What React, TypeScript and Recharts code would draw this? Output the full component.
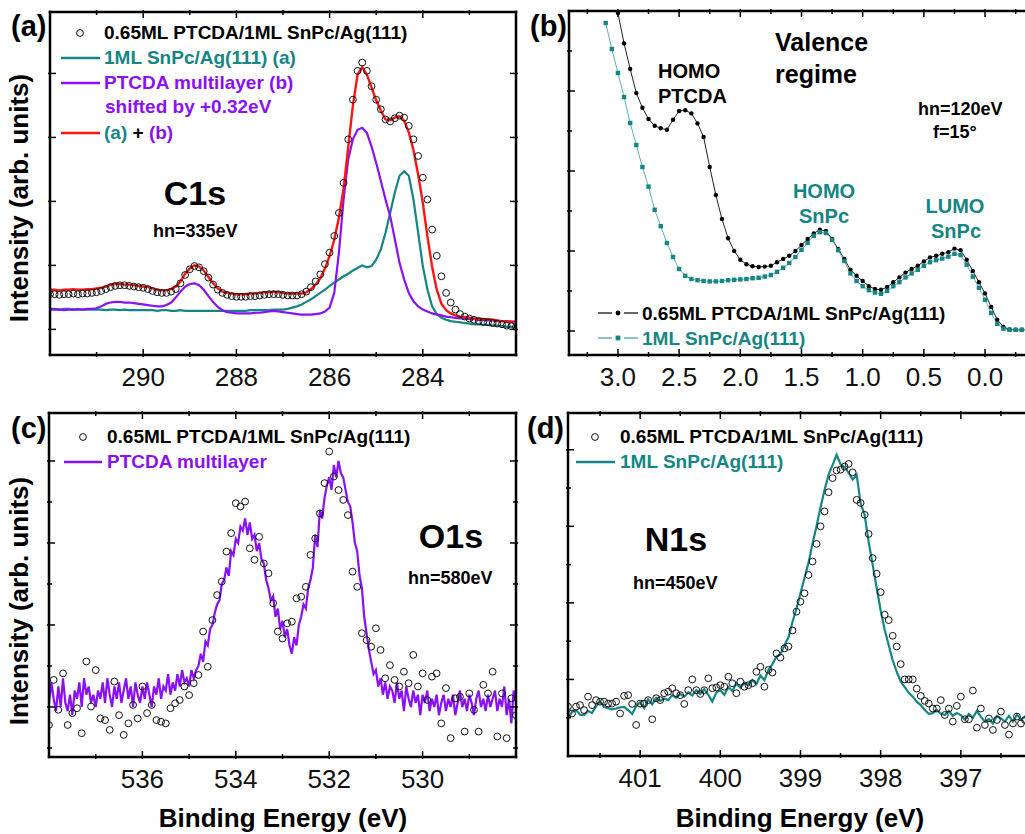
import React from "react";
import { ComposedChart, Line, Scatter, XAxis, YAxis } from "recharts";

const FONT = "'Liberation Sans', Arial, Helvetica, sans-serif";
const TEAL = "#158585";
const TEAL_LIGHT = "#5fb0b0";
const PURPLE = "#8a10f5";
const RED = "#ff1414";
const AXIS = "#000000";

// ---------- (a) C1s, hv = 335 eV : 292.0 -> 282.0 eV, step 0.1 ----------
const c1sStart = 292.0;
const c1sStep = 0.1;
const c1sMeasured = [
  1.55, 1.55, 1.54, 1.55, 1.55, 1.56, 1.55, 1.56, 1.56, 1.57, 1.58,
  1.6, 1.63, 1.66, 1.68, 1.69, 1.69, 1.68, 1.67, 1.66, 1.65,
  1.63, 1.6, 1.58, 1.57, 1.57, 1.59, 1.63, 1.72, 1.85, 1.94,
  1.99, 1.97, 1.91, 1.81, 1.7, 1.62, 1.57, 1.54, 1.52, 1.51,
  1.51, 1.51, 1.52, 1.52, 1.53, 1.54, 1.55, 1.55, 1.55, 1.54,
  1.53, 1.53, 1.53, 1.55, 1.59, 1.66, 1.75, 1.86, 2.02, 2.2,
  2.46, 2.82, 3.29, 3.97, 4.59, 5.04, 5.17, 5.04, 4.8, 4.59,
  4.44, 4.28, 4.25, 4.3, 4.34, 4.31, 4.18, 3.97, 3.71, 3.37,
  3.03, 2.56, 2.15, 1.83, 1.57, 1.42, 1.31, 1.24, 1.2, 1.17,
  1.15, 1.13, 1.12, 1.11, 1.1, 1.09, 1.08, 1.06, 1.05, 1.04,
];
const c1sSum = [
  1.62, 1.62, 1.61, 1.62, 1.62, 1.63, 1.62, 1.62, 1.63, 1.63, 1.64,
  1.65, 1.67, 1.7, 1.71, 1.71, 1.7, 1.7, 1.69, 1.68, 1.67,
  1.66, 1.64, 1.62, 1.61, 1.61, 1.63, 1.67, 1.75, 1.87, 1.95,
  2.0, 1.98, 1.92, 1.82, 1.72, 1.64, 1.59, 1.57, 1.56, 1.55,
  1.55, 1.55, 1.56, 1.56, 1.57, 1.58, 1.58, 1.59, 1.58, 1.57,
  1.56, 1.56, 1.56, 1.56, 1.58, 1.63, 1.7, 1.8, 1.95, 2.15,
  2.4, 2.75, 3.2, 3.85, 4.5, 4.98, 5.1, 4.98, 4.78, 4.58,
  4.42, 4.28, 4.27, 4.31, 4.33, 4.26, 4.08, 3.8, 3.42, 2.98,
  2.45, 1.98, 1.62, 1.4, 1.3, 1.25, 1.22, 1.2, 1.19, 1.18,
  1.17, 1.17, 1.16, 1.16, 1.15, 1.14, 1.13, 1.13, 1.12, 1.11,
];
const c1sPtcda = [
  1.31, 1.31, 1.31, 1.3, 1.31, 1.31, 1.31, 1.31, 1.32, 1.32, 1.33,
  1.36, 1.4, 1.42, 1.43, 1.43, 1.42, 1.42, 1.41, 1.4, 1.39,
  1.38, 1.37, 1.36, 1.36, 1.38, 1.42, 1.5, 1.59, 1.67, 1.71,
  1.72, 1.69, 1.62, 1.52, 1.43, 1.35, 1.3, 1.27, 1.26, 1.25,
  1.25, 1.25, 1.25, 1.26, 1.26, 1.27, 1.28, 1.29, 1.28, 1.27,
  1.26, 1.25, 1.24, 1.23, 1.23, 1.23, 1.24, 1.25, 1.28, 1.34,
  1.57, 2.2, 3.03, 3.66, 3.97, 4.12, 4.15, 4.07, 3.86, 3.6,
  3.32, 3.03, 2.77, 2.41, 2.04, 1.78, 1.57, 1.44, 1.36, 1.31,
  1.28, 1.25, 1.23, 1.22, 1.2, 1.19, 1.18, 1.17, 1.17, 1.16,
  1.16, 1.15, 1.15, 1.14, 1.14, 1.13, 1.13, 1.12, 1.12, 1.12,
];
const c1sSnpc = [
  1.32, 1.32, 1.31, 1.32, 1.32, 1.31, 1.32, 1.31, 1.31, 1.31, 1.31,
  1.31, 1.3, 1.31, 1.31, 1.3, 1.31, 1.3, 1.3, 1.3, 1.3,
  1.3, 1.3, 1.29, 1.3, 1.3, 1.29, 1.29, 1.3, 1.29, 1.29,
  1.29, 1.29, 1.29, 1.29, 1.29, 1.29, 1.29, 1.29, 1.29, 1.29,
  1.29, 1.29, 1.3, 1.3, 1.3, 1.3, 1.3, 1.31, 1.31, 1.31,
  1.32, 1.34, 1.36, 1.39, 1.43, 1.47, 1.52, 1.57, 1.62, 1.68,
  1.73, 1.78, 1.83, 1.87, 1.92, 1.96, 2.0, 1.97, 1.99, 2.09,
  2.25, 2.51, 2.82, 3.14, 3.4, 3.47, 3.4, 3.03, 2.51, 1.99,
  1.62, 1.36, 1.24, 1.18, 1.15, 1.13, 1.12, 1.11, 1.1, 1.09,
  1.08, 1.08, 1.07, 1.07, 1.06, 1.06, 1.05, 1.04, 1.04, 1.03,
];

// ---------- (b) valence, hv = 120 eV, step 0.05 ----------
const vbStep = 0.05;
const vbPtcdaStart = 3.0;
const vbPtcda = [
  8.95, 8.19, 7.55, 6.95, 6.58, 6.3, 6.13, 6.07, 6.03, 6.28,
  6.5, 6.52, 6.44, 6.19, 5.85, 5.1, 4.4, 3.8, 3.32, 3.0,
  2.78, 2.67, 2.62, 2.6, 2.61, 2.63, 2.72, 2.8, 2.88, 3.0,
  3.15, 3.3, 3.44, 3.53, 3.5, 3.3, 3.05, 2.8, 2.53, 2.38,
  2.25, 2.12, 2.05, 2.03, 2.1, 2.22, 2.34, 2.46, 2.55, 2.63,
  2.74, 2.84, 2.88, 2.93, 2.97, 3.06, 3.02, 2.78, 2.5, 2.22,
  1.94, 1.6, 1.28, 1.1, 1.04, 1.03, 1.03, 1.03, 1.03,
];
const vbSnpcStart = 3.1;
const vbSnpc = [
  8.7, 8.05, 7.45, 6.85, 6.2, 5.65, 5.1, 4.61, 4.03, 3.62,
  3.2, 2.85, 2.55, 2.38, 2.3, 2.27, 2.25, 2.24, 2.24, 2.25,
  2.27, 2.28, 2.29, 2.3, 2.32, 2.33, 2.36, 2.4, 2.48, 2.58,
  2.7, 2.85, 3.03, 3.2, 3.38, 3.47, 3.45, 3.28, 3.02, 2.75,
  2.44, 2.25, 2.12, 2.02, 1.96, 1.93, 2.0, 2.12, 2.22, 2.34,
  2.44, 2.53, 2.63, 2.72, 2.77, 2.81, 2.86, 2.93, 2.9, 2.66,
  2.36, 2.08, 1.78, 1.45, 1.18, 1.06, 1.03, 1.03, 1.03, 1.03, 1.03,
];

// ---------- (c) O1s, hv = 580 eV ----------
const o1sStart = 538.0;
const o1sMeasuredStep = 0.1;
const o1sMeasured = [
  1.56, 2.66, 1.93, 2.82, 1.56, 1.85, 1.97, 1.36, 3.11, 2.01,
  2.9, 1.72, 1.68, 1.44, 2.62, 1.8, 1.32, 1.6, 2.05, 1.72,
  2.5, 1.85, 2.05, 1.68, 1.64, 1.6, 1.97, 2.09, 2.17, 2.5,
  2.29, 2.58, 2.78, 3.84, 2.98, 4.12, 4.73, 5.06, 5.79, 6.24,
  6.97, 6.89, 7.01, 5.87, 5.59, 6.15, 5.5, 5.26, 4.53, 3.84,
  3.67, 4.04, 4.08, 4.65, 4.69, 4.93, 5.71, 6.11, 6.72, 7.46,
  8.23, 7.62, 7.29, 7.05, 6.68, 5.3, 4.93, 3.8, 3.63, 3.47,
  3.92, 3.39, 2.7, 3.02, 2.66, 2.5, 2.86, 2.58, 3.27, 2.5,
  2.82, 2.17, 2.74, 2.82, 1.6, 2.46, 1.24, 2.21, 2.25, 1.4,
  2.33, 1.93, 1.4, 2.54, 2.33, 2.86, 1.28, 2.33, 1.24, 2.21,
  1.8,
];
const o1sRefStep = 0.05;
const o1sPtcda = [
  2.1, 2.6, 2.2, 1.9, 2.5, 2.0, 2.7, 2.1, 1.9, 2.3,
  1.8, 2.4, 2.2, 2.6, 2.0, 2.7, 2.3, 2.5, 2.1, 2.3,
  2.0, 2.4, 2.2, 2.6, 2.1, 2.7, 2.3, 2.0, 2.5, 2.2,
  2.6, 2.1, 2.4, 2.7, 2.2, 2.5, 2.0, 2.6, 2.3, 2.1,
  2.5, 2.2, 2.6, 2.3, 2.0, 2.5, 2.3, 2.7, 2.2, 2.5,
  2.4, 2.8, 2.3, 2.6, 2.4, 2.8, 2.5, 2.9, 2.6, 2.7,
  2.5, 2.9, 2.7, 2.9, 3.0, 3.3, 3.1, 3.6, 3.5, 3.9,
  4.0, 4.3, 4.5, 4.6, 5.0, 5.1, 5.4, 5.2, 5.8, 5.7,
  6.1, 6.0, 6.4, 6.3, 6.6, 6.2, 6.5, 6.1, 6.2, 5.8,
  6.0, 5.6, 5.5, 5.1, 4.9, 4.6, 4.7, 4.2, 4.4, 3.9,
  4.1, 3.7, 3.9, 3.5, 3.3, 3.7, 3.5, 4.0, 4.2, 4.5,
  4.4, 4.9, 5.1, 5.4, 6.2, 5.9, 6.8, 6.6, 7.1, 7.4,
  7.6, 7.3, 7.9, 7.6, 8.0, 7.7, 7.6, 7.3, 7.0, 6.9,
  6.5, 6.0, 5.8, 5.2, 4.9, 4.2, 3.8, 3.4, 3.1, 2.8,
  2.9, 2.5, 2.7, 2.3, 2.6, 2.2, 2.5, 2.4, 2.1, 2.6,
  2.2, 2.4, 1.9, 2.5, 2.2, 2.0, 2.4, 2.1, 2.3, 1.8,
  2.3, 2.1, 2.4, 1.9, 2.2, 2.0, 2.3, 1.8, 2.1, 2.3,
  1.9, 2.2, 2.0, 2.3, 1.8, 2.1, 2.4, 2.0, 2.2, 1.9,
  2.3, 2.1, 1.8, 2.2, 2.4, 2.0, 2.2, 1.9, 2.3, 2.0,
  2.2, 2.4, 1.9, 2.2, 2.0, 2.5, 1.8, 2.2, 1.6, 2.4,
  2.1,
];

// ---------- (d) N1s, hv = 450 eV : 401.9 -> 396.1 eV, step 0.05 ----------
const n1sStart = 401.9;
const n1sStep = 0.05;
const n1sMeasured = [
  1.29, 1.11, 1.29, 1.33, 1.2, 1.55, 1.33, 1.46, 1.42, 1.42,
  1.37, 1.37, 1.42, 1.11, 1.57, 1.59, 1.36, 0.81, 1.37, 1.37,
  1.46, 0.96, 1.51, 1.46, 1.64, 1.68, 1.77, 1.64, 1.59, 1.36,
  1.72, 2.0, 1.72, 1.62, 1.72, 2.03, 1.77, 1.79, 1.85, 1.81,
  2.07, 1.9, 1.64, 1.94, 1.81, 1.85, 1.9, 2.2, 2.33, 1.81,
  2.25, 2.18, 2.68, 2.57, 2.81, 2.86, 3.28, 3.77, 4.03, 4.25,
  4.73, 5.08, 5.54, 6.0, 6.39, 6.89, 7.26, 7.46, 7.48, 7.56,
  7.63, 7.41, 6.69, 6.61, 6.3, 5.8, 5.17, 4.76, 4.28, 3.69,
  3.55, 3.14, 2.86, 2.4, 2.0, 2.0, 2.0, 1.76, 1.57, 1.44,
  1.37, 1.24, 1.24, 1.46, 1.07, 1.24, 0.9, 1.31, 1.55, 0.96,
  0.96, 1.71, 0.74, 1.24, 0.81, 0.98, 0.68, 0.94, 1.16, 0.81,
  0.56, 0.85, 1.03, 0.85, 0.94, 0.81, 0.94,
];
const n1sSnpc = [
  0.98, 1.15, 1.2, 1.08, 1.07, 1.18, 1.12, 1.3, 1.42, 1.28,
  1.25, 1.22, 1.24, 1.27, 1.28, 1.2, 1.1, 1.3, 1.4, 1.25,
  1.48, 1.35, 1.52, 1.44, 1.5, 1.46, 1.59, 1.52, 1.62, 1.55,
  1.66, 1.58, 1.72, 1.62, 1.75, 1.6, 1.42, 1.66, 1.72, 1.6,
  1.8, 1.7, 1.9, 1.78, 1.92, 1.85, 1.98, 1.88, 2.1, 1.98,
  2.25, 2.4, 2.6, 2.65, 2.9, 3.1, 3.5, 3.85, 4.25, 4.65,
  5.05, 5.55, 6.0, 6.5, 6.95, 7.35, 7.6, 7.87, 7.62, 7.55,
  7.4, 7.22, 7.35, 6.6, 6.3, 5.6, 5.0, 4.4, 3.8, 3.3,
  2.9, 2.5, 2.2, 1.95, 1.8, 1.65, 1.55, 1.42, 1.33, 1.2,
  1.1, 1.12, 1.2, 1.1, 1.07, 1.18, 1.05, 1.12, 1.07, 0.95,
  1.1, 1.0, 1.18, 1.02, 0.9, 0.97, 0.85, 1.05, 0.98, 0.9,
  1.05, 0.9, 1.08, 0.95, 1.02, 1.2, 0.98,
];

// axis ticks
const c1sTicks = [291, 290, 289, 288, 287, 286, 285, 284, 283];
const c1sMajor = [290, 288, 286, 284];
const vbTicks = [3.25, 3.0, 2.75, 2.5, 2.25, 2.0, 1.75, 1.5, 1.25, 1.0, 0.75, 0.5, 0.25, 0.0, -0.25];
const vbMajor = [3.0, 2.5, 2.0, 1.5, 1.0, 0.5, 0.0];
const o1sTicks = [537, 536, 535, 534, 533, 532, 531, 530, 529];
const o1sMajor = [536, 534, 532, 530];
const n1sTicks = [401.5, 401, 400.5, 400, 399.5, 399, 398.5, 398, 397.5, 397, 396.5];
const n1sMajor = [401, 400, 399, 398, 397];
const yTicksA = [1, 2, 3, 4, 5];
const yTicks8 = [1, 2, 3, 4, 5, 6, 7, 8];
const yMajorOdd = [1, 3, 5, 7];
const yMajorEven = [2, 4, 6, 8];

type Pt = { x: number; y: number };
const toPts = (start: number, step: number, ys: number[]): Pt[] =>
  ys.map((y, i) => ({ x: +(start - i * step).toFixed(3), y }));

type Side = "bottom" | "top" | "left" | "right";

const tickFor = (side: Side, majors: number[], digits: number) => (props: any) => {
  const { x, y, payload } = props;
  const v: number = payload.value;
  const major = majors.some((m) => Math.abs(m - v) < 1e-6);
  const len = major ? 8 : 5;
  let x2 = x;
  let y2 = y;
  if (side === "bottom") y2 = y - len;
  if (side === "top") y2 = y + len;
  if (side === "left") x2 = x + len;
  if (side === "right") x2 = x - len;
  return (
    <g>
      <line x1={x} y1={y} x2={x2} y2={y2} stroke={AXIS} strokeWidth={1.5} />
      {side === "bottom" && major ? (
        <text x={x} y={y + 29} textAnchor="middle" fontSize={26} fontFamily={FONT} fill="#111">
          {v.toFixed(digits)}
        </text>
      ) : null}
    </g>
  );
};

const openCircle = (p: any) => (
  <circle cx={p.cx} cy={p.cy} r={3.4} fill="none" stroke="#111" strokeWidth={1} />
);

type Box = { x0: number; x1: number; y0: number; y1: number };

// plot boxes in page pixels
const boxA: Box = { x0: 50, x1: 516, y0: 12, y1: 355 };
const boxB: Box = { x0: 569, x1: 1034, y0: 11, y1: 355 };
const boxC: Box = { x0: 49, x1: 516, y0: 413, y1: 757 };
const boxD: Box = { x0: 568, x1: 1033, y0: 413, y1: 756 };

type PanelProps = {
  left: number;
  top: number;
  width: number;
  height: number;
  plot: Box;
  xDomain: [number, number];
  yDomain: [number, number];
  xTicks: number[];
  xMajor: number[];
  xDigits: number;
  yTicks: number[];
  yMajor: number[];
  children: React.ReactNode;
};

function Panel(p: PanelProps) {
  const margin = {
    top: p.plot.y0 - p.top - 1,
    left: p.plot.x0 - p.left - 1,
    right: p.left + p.width - p.plot.x1 - 1,
    bottom: 0,
  };
  const bottomH = p.top + p.height - p.plot.y1;
  return (
    <div style={{ position: "absolute", left: p.left, top: p.top }}>
      <ComposedChart width={p.width} height={p.height} margin={margin}>
        <XAxis
          xAxisId="b"
          type="number"
          dataKey="x"
          domain={p.xDomain}
          reversed
          allowDataOverflow
          ticks={p.xTicks}
          interval={0}
          tickSize={0}
          tickLine={false}
          height={bottomH}
          axisLine={false}
          tick={tickFor("bottom", p.xMajor, p.xDigits)}
        />
        <XAxis
          xAxisId="t"
          orientation="top"
          type="number"
          dataKey="x"
          domain={p.xDomain}
          reversed
          allowDataOverflow
          ticks={p.xTicks}
          interval={0}
          tickSize={0}
          tickLine={false}
          height={1}
          axisLine={false}
          tick={tickFor("top", p.xMajor, 0)}
        />
        <YAxis
          yAxisId="l"
          type="number"
          dataKey="y"
          domain={p.yDomain}
          allowDataOverflow
          ticks={p.yTicks}
          interval={0}
          tickSize={0}
          tickLine={false}
          width={1}
          axisLine={false}
          tick={tickFor("left", p.yMajor, 0)}
        />
        <YAxis
          yAxisId="r"
          orientation="right"
          type="number"
          dataKey="y"
          domain={p.yDomain}
          allowDataOverflow
          ticks={p.yTicks}
          interval={0}
          tickSize={0}
          tickLine={false}
          width={1}
          axisLine={false}
          tick={tickFor("right", p.yMajor, 0)}
        />
        {p.children}
      </ComposedChart>
    </div>
  );
}

const label = (x: number, y: number, s: React.ReactNode, size: number, fill = "#000", anchor = "start") => (
  <text x={x} y={y} fontSize={size} fontWeight="bold" fontFamily={FONT} fill={fill} textAnchor={anchor as any}>
    {s}
  </text>
);

// plot frame: four filled bars round the plot box
const frameBars = (b: Box, k: string) => {
  const t = 2.5;
  return [
    <rect key={`${k}t`} x={b.x0 - t / 2} y={b.y0 - t / 2} width={b.x1 - b.x0 + t} height={t} fill={AXIS} />,
    <rect key={`${k}b`} x={b.x0 - t / 2} y={b.y1 - t / 2} width={b.x1 - b.x0 + t} height={t} fill={AXIS} />,
    <rect key={`${k}l`} x={b.x0 - t / 2} y={b.y0 - t / 2} width={t} height={b.y1 - b.y0 + t} fill={AXIS} />,
    <rect key={`${k}r`} x={b.x1 - t / 2} y={b.y0 - t / 2} width={t} height={b.y1 - b.y0 + t} fill={AXIS} />,
  ];
};

export default function App() {
  const c1sData = toPts(c1sStart, c1sStep, c1sMeasured);
  const c1sSumPts = toPts(c1sStart, c1sStep, c1sSum);
  const c1sPtcdaPts = toPts(c1sStart, c1sStep, c1sPtcda);
  const c1sSnpcPts = toPts(c1sStart, c1sStep, c1sSnpc);
  const vbPtcdaPts = toPts(vbPtcdaStart, vbStep, vbPtcda);
  const vbSnpcPts = toPts(vbSnpcStart, vbStep, vbSnpc);
  const o1sData = toPts(o1sStart, o1sMeasuredStep, o1sMeasured);
  const o1sRef = toPts(o1sStart, o1sRefStep, o1sPtcda);
  const n1sData = toPts(n1sStart, n1sStep, n1sMeasured);
  const n1sRef = toPts(n1sStart, n1sStep, n1sSnpc);

  const ids = { xAxisId: "b", yAxisId: "l" };

  return (
    <div
      style={{
        position: "fixed",
        left: 0,
        top: 0,
        width: 1025,
        height: 834,
        overflow: "hidden",
        background: "#fff",
        fontFamily: FONT,
      }}
    >
      {/* (a) C1s */}
      <Panel
        left={0}
        top={0}
        width={530}
        height={400}
        plot={boxA}
        xDomain={[282, 292]}
        yDomain={[0.6, 5.96]}
        xTicks={c1sTicks}
        xMajor={c1sMajor}
        xDigits={0}
        yTicks={yTicksA}
        yMajor={yTicksA}
      >
        <Scatter {...ids} data={c1sData} dataKey="y" shape={openCircle} isAnimationActive={false} />
        <Line {...ids} data={c1sSnpcPts} dataKey="y" type="linear" stroke={TEAL} strokeWidth={2.2} dot={false} isAnimationActive={false} />
        <Line {...ids} data={c1sPtcdaPts} dataKey="y" type="linear" stroke={PURPLE} strokeWidth={2.2} dot={false} isAnimationActive={false} />
        <Line {...ids} data={c1sSumPts} dataKey="y" type="linear" stroke={RED} strokeWidth={2.4} dot={false} isAnimationActive={false} />
      </Panel>

      {/* (b) valence */}
      <Panel
        left={520}
        top={0}
        width={520}
        height={400}
        plot={boxB}
        xDomain={[-0.4, 3.4]}
        yDomain={[0.4, 9]}
        xTicks={vbTicks}
        xMajor={vbMajor}
        xDigits={1}
        yTicks={yTicks8}
        yMajor={yMajorOdd}
      >
        <Line
          {...ids}
          data={vbPtcdaPts}
          dataKey="y"
          type="linear"
          stroke="#222"
          strokeWidth={1}
          dot={(d: any) => <circle key={`pd${d.index}`} cx={d.cx} cy={d.cy} r={2.2} fill="#000" />}
          isAnimationActive={false}
        />
        <Line
          {...ids}
          data={vbSnpcPts}
          dataKey="y"
          type="linear"
          stroke={TEAL_LIGHT}
          strokeWidth={1}
          dot={(d: any) => <rect key={`sq${d.index}`} x={d.cx - 2.2} y={d.cy - 2.2} width={4.4} height={4.4} fill={TEAL} />}
          isAnimationActive={false}
        />
      </Panel>

      {/* (c) O1s */}
      <Panel
        left={0}
        top={400}
        width={530}
        height={402}
        plot={boxC}
        xDomain={[528, 538]}
        yDomain={[0.78, 9.17]}
        xTicks={o1sTicks}
        xMajor={o1sMajor}
        xDigits={0}
        yTicks={yTicks8}
        yMajor={yMajorEven}
      >
        <Scatter {...ids} data={o1sData} dataKey="y" shape={openCircle} isAnimationActive={false} />
        <Line {...ids} data={o1sRef} dataKey="y" type="linear" stroke={PURPLE} strokeWidth={2.2} dot={false} isAnimationActive={false} />
      </Panel>

      {/* (d) N1s */}
      <Panel
        left={520}
        top={400}
        width={520}
        height={401}
        plot={boxD}
        xDomain={[396.1, 401.9]}
        yDomain={[0, 8.96]}
        xTicks={n1sTicks}
        xMajor={n1sMajor}
        xDigits={0}
        yTicks={yTicks8}
        yMajor={yMajorEven}
      >
        <Scatter {...ids} data={n1sData} dataKey="y" shape={openCircle} isAnimationActive={false} />
        <Line {...ids} data={n1sRef} dataKey="y" type="linear" stroke={TEAL} strokeWidth={2.2} dot={false} isAnimationActive={false} />
      </Panel>

      {/* frames, annotations, legends, axis titles */}
      <svg
        width={1025}
        height={834}
        style={{ position: "absolute", left: 0, top: 0, pointerEvents: "none" }}
      >
        {frameBars(boxA, "a")}
        {frameBars(boxB, "b")}
        {frameBars(boxC, "c")}
        {frameBars(boxD, "d")}

        {/* panel letters */}
        {label(11, 36, "(a)", 29)}
        {label(530, 36, "(b)", 29)}
        {label(11, 438, "(c)", 29)}
        {label(527, 438, "(d)", 29)}

        {/* (a) legend */}
        <circle cx={80} cy={33} r={3.4} fill="none" stroke="#111" strokeWidth={1} />
        {label(104, 39, "0.65ML PTCDA/1ML SnPc/Ag(111)", 19)}
        <line x1={61} y1={58} x2={100} y2={58} stroke={TEAL} strokeWidth={2.5} />
        {label(104, 64, "1ML SnPc/Ag(111) (a)", 19, TEAL)}
        <line x1={61} y1={83} x2={100} y2={83} stroke={PURPLE} strokeWidth={2.5} />
        {label(104, 89, "PTCDA multilayer (b)", 19, PURPLE)}
        {label(105, 113, "shifted by +0.32eV", 19, PURPLE)}
        <line x1={61} y1={133} x2={100} y2={133} stroke={RED} strokeWidth={2.5} />
        <text x={104} y={139} fontSize={19} fontWeight="bold" fontFamily={FONT}>
          <tspan fill={TEAL}>(a)</tspan>
          <tspan fill="#000"> + </tspan>
          <tspan fill={PURPLE}>(b)</tspan>
        </text>
        {label(195, 205, "C1s", 34, "#000", "middle")}
        {label(153, 237, "hn=335eV", 18)}

        {/* (b) annotations */}
        {label(775, 51, "Valence", 25)}
        {label(775, 83, "regime", 25)}
        {label(658, 78, "HOMO", 20)}
        {label(658, 103, "PTCDA", 20)}
        {label(918, 115, "hn=120eV", 18)}
        {label(933, 138, "f=15°", 18)}
        {label(824, 198, "HOMO", 20, TEAL, "middle")}
        {label(824, 223, "SnPc", 20, TEAL, "middle")}
        {label(955, 213, "LUMO", 20, TEAL, "middle")}
        {label(956, 238, "SnPc", 20, TEAL, "middle")}
        <line x1={598} y1={313} x2={612} y2={313} stroke="#000" strokeWidth={1.2} />
        <circle cx={618} cy={313} r={2.4} fill="#000" />
        <line x1={624} y1={313} x2={638} y2={313} stroke="#000" strokeWidth={1.2} />
        {label(642, 320, "0.65ML PTCDA/1ML SnPc/Ag(111)", 19)}
        <line x1={598} y1={338} x2={612} y2={338} stroke={TEAL_LIGHT} strokeWidth={1.5} />
        <rect x={615.6} y={335.6} width={4.8} height={4.8} fill={TEAL} />
        <line x1={624} y1={338} x2={638} y2={338} stroke={TEAL_LIGHT} strokeWidth={1.5} />
        {label(642, 345, "1ML SnPc/Ag(111)", 19, TEAL)}

        {/* (c) legend and labels */}
        <circle cx={83} cy={437} r={3.4} fill="none" stroke="#111" strokeWidth={1} />
        {label(107, 443, "0.65ML PTCDA/1ML SnPc/Ag(111)", 19)}
        <line x1={64} y1={462} x2={102} y2={462} stroke={PURPLE} strokeWidth={2.5} />
        {label(107, 468, "PTCDA multilayer", 19, PURPLE)}
        {label(451, 548, "O1s", 34, "#000", "middle")}
        {label(408, 584, "hn=580eV", 18)}

        {/* (d) legend and labels */}
        <circle cx={595} cy={437} r={3.4} fill="none" stroke="#111" strokeWidth={1} />
        {label(620, 443, "0.65ML PTCDA/1ML SnPc/Ag(111)", 19)}
        <line x1={576} y1={462} x2={615} y2={462} stroke={TEAL} strokeWidth={2.5} />
        {label(620, 468, "1ML SnPc/Ag(111)", 19, TEAL)}
        {label(676, 551, "N1s", 34, "#000", "middle")}
        {label(633, 589, "hn=450eV", 18)}

        {/* axis titles */}
        <g transform="translate(28,198) rotate(-90)">
          {label(0, 0, "Intensity (arb. units)", 26, "#000", "middle")}
        </g>
        <g transform="translate(28,601) rotate(-90)">
          {label(0, 0, "Intensity (arb. units)", 26, "#000", "middle")}
        </g>
        {label(283, 827, "Binding Energy (eV)", 26, "#000", "middle")}
        {label(800, 827, "Binding Energy (eV)", 26, "#000", "middle")}
      </svg>
    </div>
  );
}
